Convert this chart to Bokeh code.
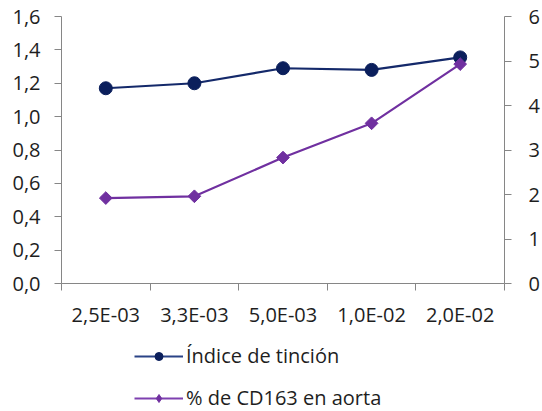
import math
from bokeh.plotting import figure
from bokeh.layouts import column
from bokeh.models import (Range1d, LinearAxis, FixedTicker, Legend, LegendItem,
                          ColumnDataSource)
from bokeh.embed import file_html
from bokeh.resources import INLINE

categories = ["2,5E-03", "3,3E-03", "5,0E-03", "1,0E-02", "2,0E-02"]
indice_tincion = [1.17, 1.20, 1.29, 1.28, 1.355]
cd163_aorta = [1.92, 1.96, 2.83, 3.60, 4.93]
left_ticks = [0, 0.2, 0.4, 0.6, 0.8, 1.0, 1.2, 1.4, 1.6]
right_ticks = [0, 1, 2, 3, 4, 5, 6]
series_names = ["Índice de tinción", "% de CD163 en aorta"]

xs = [i + 0.5 for i in range(len(categories))]
src = ColumnDataSource(dict(x=xs, a=indice_tincion, b=cd163_aorta))

FONT = "Open Sans"
FS = "20px"
AXIS_COLOR = "#868686"
TEXT_COLOR = "#1E1E1E"
NAVY = "#14296A"
NAVY_M = "#0B1F5C"
PURPLE = "#7030A0"

p = figure(width=542, height=330, output_backend="svg", toolbar_location=None,
           x_range=Range1d(0, len(categories)), y_range=Range1d(0, 1.6),
           x_axis_location=None, y_axis_location=None,
           min_border_left=61, min_border_right=37, min_border_top=16,
           min_border_bottom=45)
p.outline_line_color = None
p.xgrid.visible = False
p.ygrid.visible = False
p.extra_y_ranges = {"right": Range1d(0, 6)}

def style(ax):
    ax.axis_line_color = AXIS_COLOR
    ax.major_tick_line_color = AXIS_COLOR
    ax.minor_tick_line_color = AXIS_COLOR
    ax.major_label_text_font = FONT
    ax.major_label_text_font_size = FS
    ax.major_label_text_color = TEXT_COLOR
    ax.major_tick_in = 0
    ax.minor_tick_in = 0

# bottom axis: labels at category centres, tick marks between categories
xa = LinearAxis(ticker=FixedTicker(ticks=xs, minor_ticks=list(range(len(categories) + 1))),
                major_label_overrides={x: c for x, c in zip(xs, categories)})
style(xa)
xa.major_tick_out = 0
xa.minor_tick_out = 7
xa.major_label_standoff = 10
p.add_layout(xa, "below")

ya = LinearAxis(ticker=FixedTicker(ticks=left_ticks, minor_ticks=[]),
                major_label_overrides={t: f"{t:.1f}".replace(".", ",") for t in left_ticks})
style(ya)
ya.major_tick_out = 7
ya.minor_tick_out = 0
ya.major_label_standoff = 14
p.add_layout(ya, "left")

yb = LinearAxis(y_range_name="right", ticker=FixedTicker(ticks=right_ticks, minor_ticks=[]))
style(yb)
yb.major_tick_out = 7
yb.minor_tick_out = 0
yb.major_label_standoff = 17
p.add_layout(yb, "right")

p.line("x", "a", source=src, line_color=NAVY, line_width=2.2)
p.scatter("x", "a", source=src, marker="circle", size=13,
          fill_color=NAVY_M, line_color=NAVY_M)
p.line("x", "b", source=src, y_range_name="right", line_color=PURPLE, line_width=2.2)
p.scatter("x", "b", source=src, y_range_name="right", marker="square", size=9,
          angle=math.pi / 4, fill_color=PURPLE, line_color=PURPLE)

# legend in its own strip below the chart
q = figure(width=542, height=81, output_backend="svg", toolbar_location=None,
           x_range=Range1d(0, 1), y_range=Range1d(0, 1),
           x_axis_location=None, y_axis_location=None, min_border=0)
q.grid.visible = False
q.outline_line_color = None
nan = float("nan")
empty = ColumnDataSource(dict(x=[nan], y=[nan]))
qa = q.line("x", "y", source=empty, line_color="#2A4386", line_width=2)
qma = q.scatter("x", "y", source=empty, marker="circle", size=12,
                fill_color=NAVY_M, line_color=NAVY_M)
qb = q.line("x", "y", source=empty, line_color="#7E40B0", line_width=2)
qmb = q.scatter("x", "y", source=empty, marker="diamond", size=13,
                fill_color=PURPLE, line_color=PURPLE)

legend = Legend(items=[LegendItem(label=series_names[0], renderers=[qa, qma]),
                       LegendItem(label=series_names[1], renderers=[qb, qmb])],
                orientation="vertical", location=(73, 0))
legend.label_text_font = FONT
legend.label_text_font_size = FS
legend.label_text_color = TEXT_COLOR
legend.border_line_color = None
legend.background_fill_alpha = 0
legend.label_height = 20
legend.glyph_height = 20
legend.spacing = 15
legend.glyph_width = 49
legend.label_standoff = 3
legend.padding = 0
legend.margin = 0
q.add_layout(legend, "center")

layout = column(p, q, spacing=0)
open("out.html", "w").write(file_html(layout, INLINE))
